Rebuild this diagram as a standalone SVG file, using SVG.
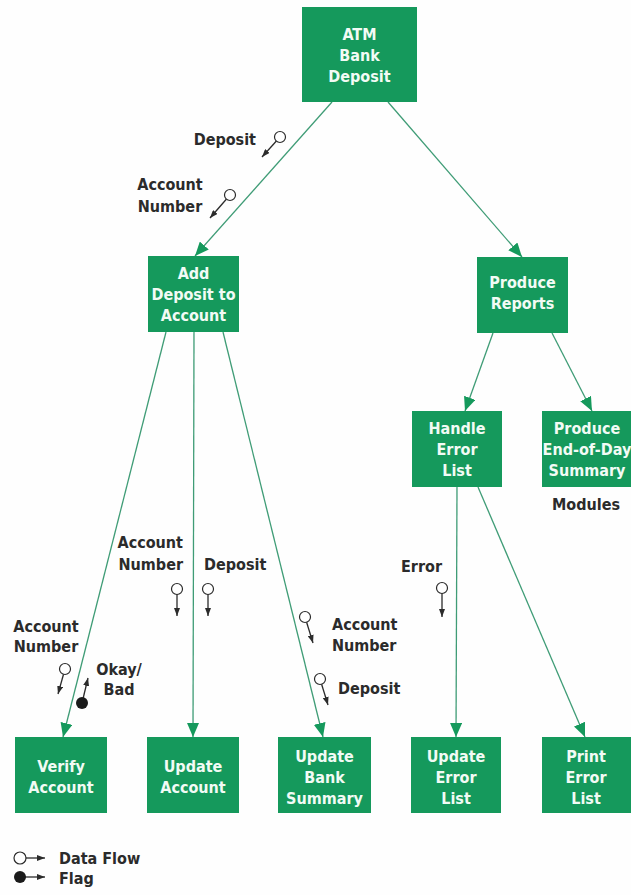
<svg xmlns="http://www.w3.org/2000/svg" width="631" height="895" viewBox="0 0 631 895">
<defs>
<style>
.box{fill:#15995c;}
.bt{fill:#f2fbf5;font-family:"DejaVu Sans Condensed","DejaVu Sans",sans-serif;font-stretch:condensed;font-weight:bold;font-size:16px;text-anchor:middle;}
.lb{fill:#2b2b2b;font-family:"DejaVu Sans Condensed","DejaVu Sans",sans-serif;font-stretch:condensed;font-weight:bold;font-size:16px;}
.con{stroke:#3f9c76;stroke-width:1.3;fill:none;marker-end:url(#ga);}
.stem{stroke:#2b2b2b;stroke-width:1.3;fill:none;marker-end:url(#sa);}
.dc{fill:#ffffff;stroke:#2b2b2b;stroke-width:1.2;}
.fc{fill:#1a1a1a;}
</style>
<marker id="ga" viewBox="0 0 14 12" refX="14" refY="6" markerWidth="14" markerHeight="12" markerUnits="userSpaceOnUse" orient="auto">
<path d="M0,0 L14,6 L0,12 Z" fill="#15995c"/>
</marker>
<marker id="sa" viewBox="0 0 8 6" refX="8" refY="3" markerWidth="8" markerHeight="6" markerUnits="userSpaceOnUse" orient="auto">
<path d="M0,0 L8,3 L0,6 Z" fill="#2b2b2b"/>
</marker>
</defs>
<rect x="0" y="0" width="631" height="895" fill="#fefefe"/>

<g id="connectors">
<line class="con" x1="332" y1="102" x2="195" y2="256"/>
<line class="con" x1="388" y1="102" x2="522" y2="257"/>
<line class="con" x1="166" y1="332" x2="63" y2="737"/>
<line class="con" x1="194" y1="332" x2="193" y2="737"/>
<line class="con" x1="223" y1="332" x2="323" y2="737"/>
<line class="con" x1="493" y1="333" x2="465" y2="411"/>
<line class="con" x1="552" y1="333" x2="592" y2="411"/>
<line class="con" x1="457" y1="487" x2="456" y2="737"/>
<line class="con" x1="478" y1="487" x2="585" y2="737"/>
</g>

<g id="atm">
<rect class="box" x="302" y="7" width="115" height="95"/>
<text class="bt" x="359.5" y="40">ATM</text>
<text class="bt" x="359.5" y="61">Bank</text>
<text class="bt" x="359.5" y="82">Deposit</text>
</g>
<g id="add-deposit">
<rect class="box" x="148" y="256" width="91" height="76"/>
<text class="bt" x="193.5" y="279">Add</text>
<text class="bt" x="193.5" y="300">Deposit to</text>
<text class="bt" x="193.5" y="321">Account</text>
</g>
<g id="produce-reports">
<rect class="box" x="477" y="257" width="91" height="76"/>
<text class="bt" x="522.5" y="288">Produce</text>
<text class="bt" x="522.5" y="309">Reports</text>
</g>
<g id="handle-error">
<rect class="box" x="412" y="411" width="90" height="76"/>
<text class="bt" x="457" y="434">Handle</text>
<text class="bt" x="457" y="455">Error</text>
<text class="bt" x="457" y="476">List</text>
</g>
<g id="end-of-day">
<rect class="box" x="542" y="411" width="91" height="76"/>
<text class="bt" x="587" y="434">Produce</text>
<text class="bt" x="587" y="455">End-of-Day</text>
<text class="bt" x="587" y="476">Summary</text>
</g>
<g id="verify">
<rect class="box" x="15" y="737" width="92" height="76"/>
<text class="bt" x="61" y="772">Verify</text>
<text class="bt" x="61" y="793">Account</text>
</g>
<g id="update-account">
<rect class="box" x="147" y="737" width="92" height="76"/>
<text class="bt" x="193" y="772">Update</text>
<text class="bt" x="193" y="793">Account</text>
</g>
<g id="update-bank">
<rect class="box" x="278" y="737" width="93" height="76"/>
<text class="bt" x="324.5" y="762">Update</text>
<text class="bt" x="324.5" y="783">Bank</text>
<text class="bt" x="324.5" y="804">Summary</text>
</g>
<g id="update-error">
<rect class="box" x="411" y="737" width="90" height="76"/>
<text class="bt" x="456" y="762">Update</text>
<text class="bt" x="456" y="783">Error</text>
<text class="bt" x="456" y="804">List</text>
</g>
<g id="print-error">
<rect class="box" x="542" y="737" width="90" height="76"/>
<text class="bt" x="586" y="762">Print</text>
<text class="bt" x="586" y="783">Error</text>
<text class="bt" x="586" y="804">List</text>
</g>

<g id="data-flows">
<line class="stem" x1="280" y1="137" x2="262" y2="157"/>
<circle class="dc" cx="280" cy="137" r="5.5"/>
<text class="lb" x="256" y="145" text-anchor="end">Deposit</text>

<line class="stem" x1="230" y1="195" x2="210" y2="218"/>
<circle class="dc" cx="230" cy="195" r="5.5"/>
<text class="lb" x="170" y="190" text-anchor="middle">Account</text>
<text class="lb" x="170" y="212" text-anchor="middle">Number</text>

<line class="stem" x1="177" y1="589" x2="177" y2="616"/>
<circle class="dc" cx="177" cy="589" r="5.5"/>
<text class="lb" x="183" y="548" text-anchor="end">Account</text>
<text class="lb" x="183" y="570" text-anchor="end">Number</text>

<line class="stem" x1="208" y1="589" x2="208" y2="616"/>
<circle class="dc" cx="208" cy="589" r="5.5"/>
<text class="lb" x="204" y="570">Deposit</text>

<line class="stem" x1="65" y1="669" x2="58" y2="694"/>
<circle class="dc" cx="65" cy="669" r="5.5"/>
<text class="lb" x="46" y="632" text-anchor="middle">Account</text>
<text class="lb" x="46" y="652" text-anchor="middle">Number</text>

<line class="stem" x1="82" y1="703" x2="88" y2="678"/>
<circle class="fc" cx="82" cy="703" r="6"/>
<text class="lb" x="119" y="675" text-anchor="middle">Okay/</text>
<text class="lb" x="119" y="695" text-anchor="middle">Bad</text>

<line class="stem" x1="305" y1="617" x2="313" y2="643"/>
<circle class="dc" cx="305" cy="617" r="5.5"/>
<text class="lb" x="332" y="630">Account</text>
<text class="lb" x="332" y="651">Number</text>

<line class="stem" x1="320" y1="679" x2="328" y2="705"/>
<circle class="dc" cx="320" cy="679" r="5.5"/>
<text class="lb" x="338" y="694">Deposit</text>

<line class="stem" x1="442" y1="588" x2="442" y2="617"/>
<circle class="dc" cx="442" cy="588" r="5.5"/>
<text class="lb" x="442" y="572" text-anchor="end">Error</text>
</g>

<g id="labels">
<text class="lb" x="586" y="510" text-anchor="middle">Modules</text>
</g>

<g id="legend">
<line class="stem" x1="20" y1="858" x2="45" y2="858"/>
<circle class="dc" cx="20" cy="858" r="6"/>
<text class="lb" x="59" y="864">Data Flow</text>
<line class="stem" x1="20" y1="877" x2="45" y2="877"/>
<circle class="fc" cx="20" cy="877" r="6"/>
<text class="lb" x="59" y="884">Flag</text>
</g>
</svg>
